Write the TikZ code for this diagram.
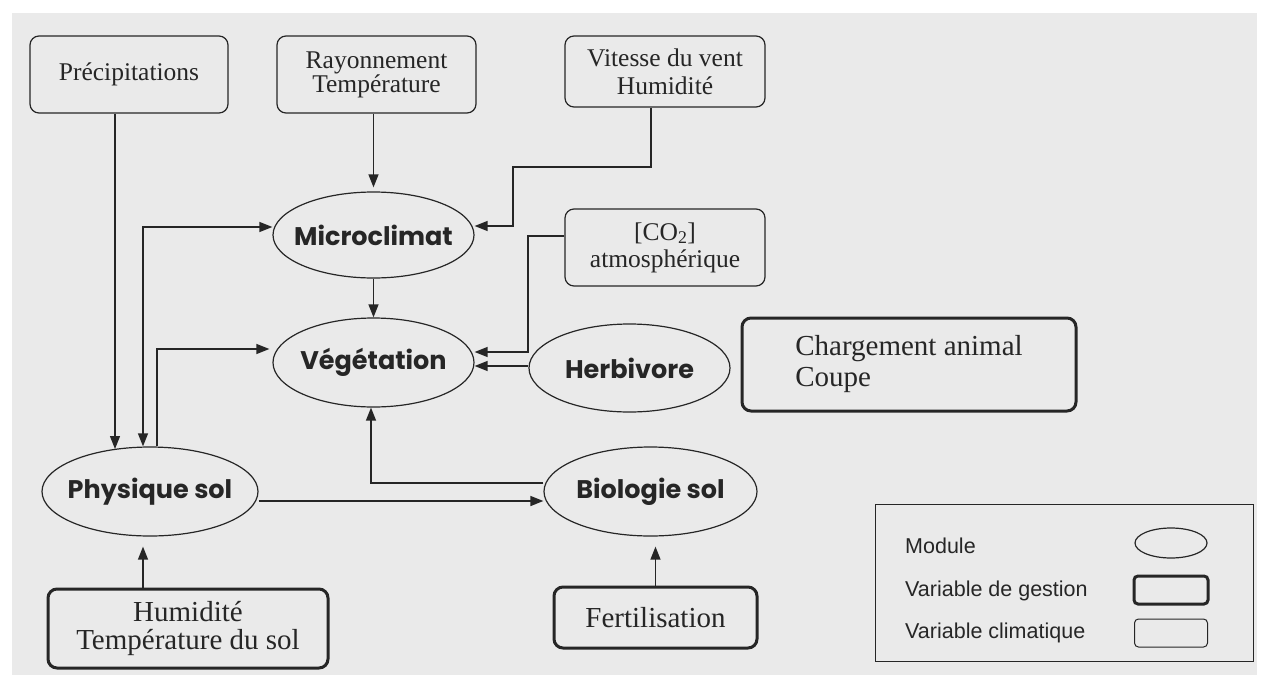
\documentclass[tikz,border=0pt]{standalone}
\usepackage{fontspec}
\setmainfont{Liberation Serif}
\newfontfamily\modfont{Poppins}
\newfontfamily\legfont{Liberation Sans}
\usetikzlibrary{arrows.meta,shapes.geometric}
\definecolor{bg}{RGB}{234,234,234}
\definecolor{ink}{RGB}{38,38,38}
\begin{document}
\begin{tikzpicture}[x=1pt,y=-1pt,
  climbox/.style={draw=ink, line width=1.2pt, rounded corners=9pt, font=\fontsize{25.5}{23}\selectfont, text=ink, align=center, inner sep=0pt},
  gestbox/.style={draw=ink, line width=3pt, rounded corners=9pt, font=\fontsize{29}{29}\selectfont, text=ink, inner sep=0pt},
  module/.style={draw=ink, line width=1.2pt, ellipse, inner sep=0pt, font=\modfont\bfseries\fontsize{25.5}{28}\selectfont, text=ink},
  legtext/.style={font=\legfont\fontsize{21.5}{24}\selectfont, text=ink, inner sep=0pt, anchor=base west},
  arr/.style={draw=ink, line width=1.3pt, -{Triangle[length=13pt,width=10pt]}},
  darr/.style={draw=ink, line width=1.3pt, {Triangle[length=13pt,width=10pt]}-{Triangle[length=13pt,width=10pt]}}]
\useasboundingbox (0,0) rectangle (1263,675);
\fill[white] (0,0) rectangle (1263,675);
\fill[bg] (12,13) rectangle (1257,675);

% climate variables
\node[climbox, minimum width=198pt, minimum height=77pt] (prec) at (129,74.5) {Précipitations};
\node[climbox, minimum width=199pt, minimum height=77pt] (ray) at (376.5,74.5) {Rayonnement\\Température};
\node[climbox, minimum width=200pt, minimum height=71pt] (vit) at (665,71.5) {Vitesse du vent\\[5pt]Humidité};
\node[climbox, minimum width=200pt, minimum height=77pt, font=\fontsize{25.5}{27}\selectfont] (co2) at (665,247.5) {[CO\textsubscript{2}]\\atmosphérique};

% modules
\node[module, minimum width=201pt, minimum height=86pt] (micro) at (373.5,235) {\makebox[0pt]{Microclimat}};
\node[module, minimum width=201pt, minimum height=89pt] (veg) at (373.5,362.5) {\makebox[0pt]{Végétation}};
\node[module, minimum width=201pt, minimum height=88pt] (herb) at (629.5,368) {\makebox[0pt]{Herbivore}};
\node[module, minimum width=216pt, minimum height=89pt] (phys) at (150,491.5) {\makebox[0pt]{Physique sol}};
\node[module, minimum width=213pt, minimum height=89pt] (bio) at (650.5,491.5) {\makebox[0pt]{Biologie sol}};

% management variables
\node[gestbox, minimum width=334pt, minimum height=93pt, align=left, font=\fontsize{29}{31}\selectfont] (charg) at (909,364.5) {Chargement animal\\Coupe};
\node[gestbox, minimum width=280pt, minimum height=79pt, align=center, font=\fontsize{29}{28}\selectfont] (hum) at (188,628.5) {Humidité\\Température du sol};
\node[gestbox, minimum width=203pt, minimum height=61pt] (fert) at (655.5,617.5) {Fertilisation};

% legend
\node[draw=ink, line width=1pt, minimum width=378pt, minimum height=157pt, inner sep=0pt] (leg) at (1064,582.5) {};
\node[legtext] (lmod) at (905,553) {Module};
\node[legtext] (lges) at (905,596) {Variable de gestion};
\node[legtext] (lcli) at (905,638) {Variable climatique};
\node[draw=ink, line width=1.2pt, ellipse, minimum width=72pt, minimum height=30pt, inner sep=0pt] (lell) at (1171,543) {};
\node[draw=ink, line width=3pt, rounded corners=4pt, minimum width=74pt, minimum height=28pt, inner sep=0pt] (lgbox) at (1171,590) {};
\node[draw=ink, line width=1pt, rounded corners=4pt, minimum width=73pt, minimum height=28pt, inner sep=0pt] (lcbox) at (1171,633) {};

% connectors
\coordinate (v1) at (651,167);
\coordinate (v2) at (513,167);
\coordinate (v3) at (513,226);
\draw[arr] (vit.south -| v1) -- (v1) -- (v2) -- (v3) -- (v3 -| micro.east);

\draw[arr, shorten >=4pt] (micro.north |- ray.south) -- (micro.north);

\coordinate (c1) at (528,236);
\coordinate (c2) at (528,352);
\draw[arr] (co2.west |- c1) -- (c1) -- (c2) -- (c2 -| veg.east);

\coordinate (h1) at (529,366);
\draw[arr] (herb.west |- h1) -- (h1 -| veg.east);

\draw[arr] (micro.south) -- (veg.north);

\coordinate (p1) at (115,449);
\draw[arr] (prec.south -| p1) -- (p1);

\coordinate (m1) at (143,227);
\draw[darr] (m1 -| micro.west) -- (m1) -- (m1 |- phys.north);

\coordinate (q1) at (157,349);
\draw[arr, shorten >=3pt] (q1 |- phys.north) -- (q1) -- (q1 -| veg.west);

\coordinate (r1) at (0,501);
\draw[arr] (phys.east |- r1) -- (bio.west |- r1);

\coordinate (b1) at (371,483);
\draw[arr] (bio.west |- b1) -- (b1) -- (b1 |- veg.south);

\draw[arr, shorten >=10pt] (hum.north -| m1) -- (m1 |- phys.south);
\draw[arr, shorten >=10pt] (fert.north) -- (fert.north |- bio.south);
\end{tikzpicture}
\end{document}
